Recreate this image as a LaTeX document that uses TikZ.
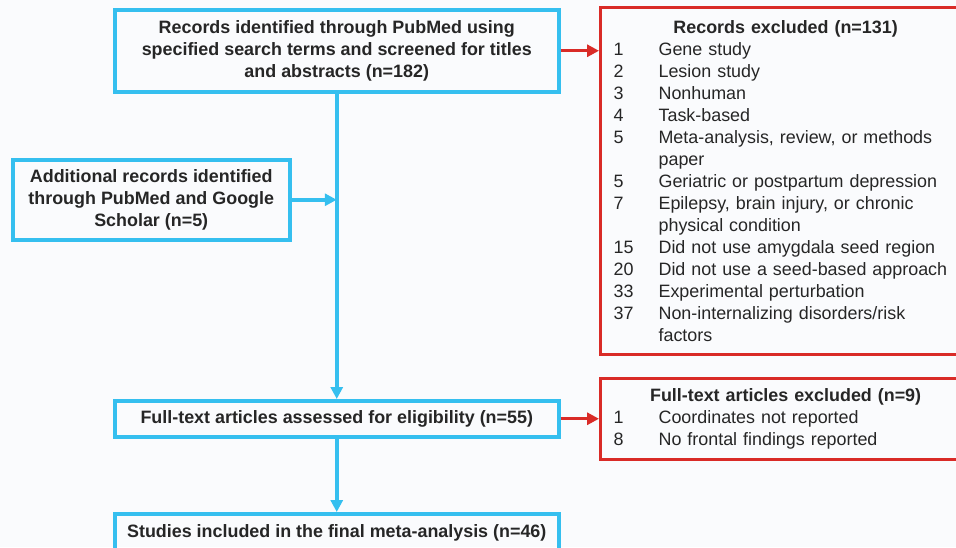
\documentclass[tikz,border=0pt]{standalone}
\usepackage{fontspec}
\setmainfont{Liberation Sans}
\usetikzlibrary{arrows.meta}
\definecolor{bluec}{HTML}{35BFEF}
\definecolor{redc}{HTML}{D92B27}
\definecolor{bgc}{HTML}{FAFBFD}
\definecolor{txtc}{HTML}{262626}
\newcommand{\itm}[2]{\makebox[45pt][l]{#1}#2}
\begin{document}
\begin{tikzpicture}[x=1pt,y=-1pt,
  bluebox/.style={draw=bluec, line width=3.5pt, align=center, inner sep=0pt,
    text=txtc, font=\bfseries\fontsize{17.9}{22}\selectfont, anchor=north west},
  redbox/.style={draw=redc, line width=3.2pt, align=left, inner xsep=13pt, inner ysep=0pt,
    text=txtc, font=\fontsize{17.9}{22}\selectfont, anchor=north west,
    minimum width=370, text width=344},
  bluearrow/.style={draw=bluec, line width=3.5pt, -{Triangle[length=12pt,width=12pt]}},
  redarrow/.style={draw=redc, line width=3.2pt, -{Triangle[length=12pt,width=12pt]}}
]
\useasboundingbox (0,0) rectangle (956,547);
\clip (0,0) rectangle (956,547);
\fill[bgc] (0,0) rectangle (956,547);

\node[bluebox, minimum width=444, minimum height=82] (rec) at (113,8)
  {Records identified through PubMed using\\specified search terms and screened for titles\\and abstracts (n=182)};
\node[bluebox, minimum width=277, minimum height=80] (add) at (11,158)
  {Additional records identified\\through PubMed and Google\\Scholar (n=5)};
\node[bluebox, minimum width=444, minimum height=36] (full) at (113,399)
  {Full-text articles assessed for eligibility (n=55)};
\node[bluebox, minimum width=444, minimum height=38] (incl) at (113,512)
  {Studies included in the final meta-analysis (n=46)};

\node[redbox, minimum height=347] (excl1) at (599,6)
  {\makebox[\linewidth]{\bfseries Records excluded (n=131)}\\
   \itm{1}{Gene study}\\
   \itm{2}{Lesion study}\\
   \itm{3}{Nonhuman}\\
   \itm{4}{Task-based}\\
   \itm{5}{Meta-analysis, review, or methods}\\
   \itm{}{paper}\\
   \itm{5}{Geriatric or postpartum depression}\\
   \itm{7}{Epilepsy, brain injury, or chronic}\\
   \itm{}{physical condition}\\
   \itm{15}{Did not use amygdala seed region}\\
   \itm{20}{Did not use a seed-based approach}\\
   \itm{33}{Experimental perturbation}\\
   \itm{37}{Non-internalizing disorders/risk}\\
   \itm{}{factors}};
\node[redbox, minimum height=81] (excl2) at (599,377)
  {\makebox[\linewidth]{\bfseries Full-text articles excluded (n=9)}\\
   \itm{1}{Coordinates not reported}\\
   \itm{8}{No frontal findings reported}};

\coordinate (join) at (rec.south |- add.east);
\draw[bluearrow] (rec.south) -- (full.north);
\draw[bluearrow] (add.east) -- (join);
\draw[bluearrow] (full.south) -- (incl.north);
\draw[redarrow] (rec.east) -- (rec.east -| excl1.west);
\draw[redarrow] (full.east) -- (full.east -| excl2.west);
\end{tikzpicture}
\end{document}
